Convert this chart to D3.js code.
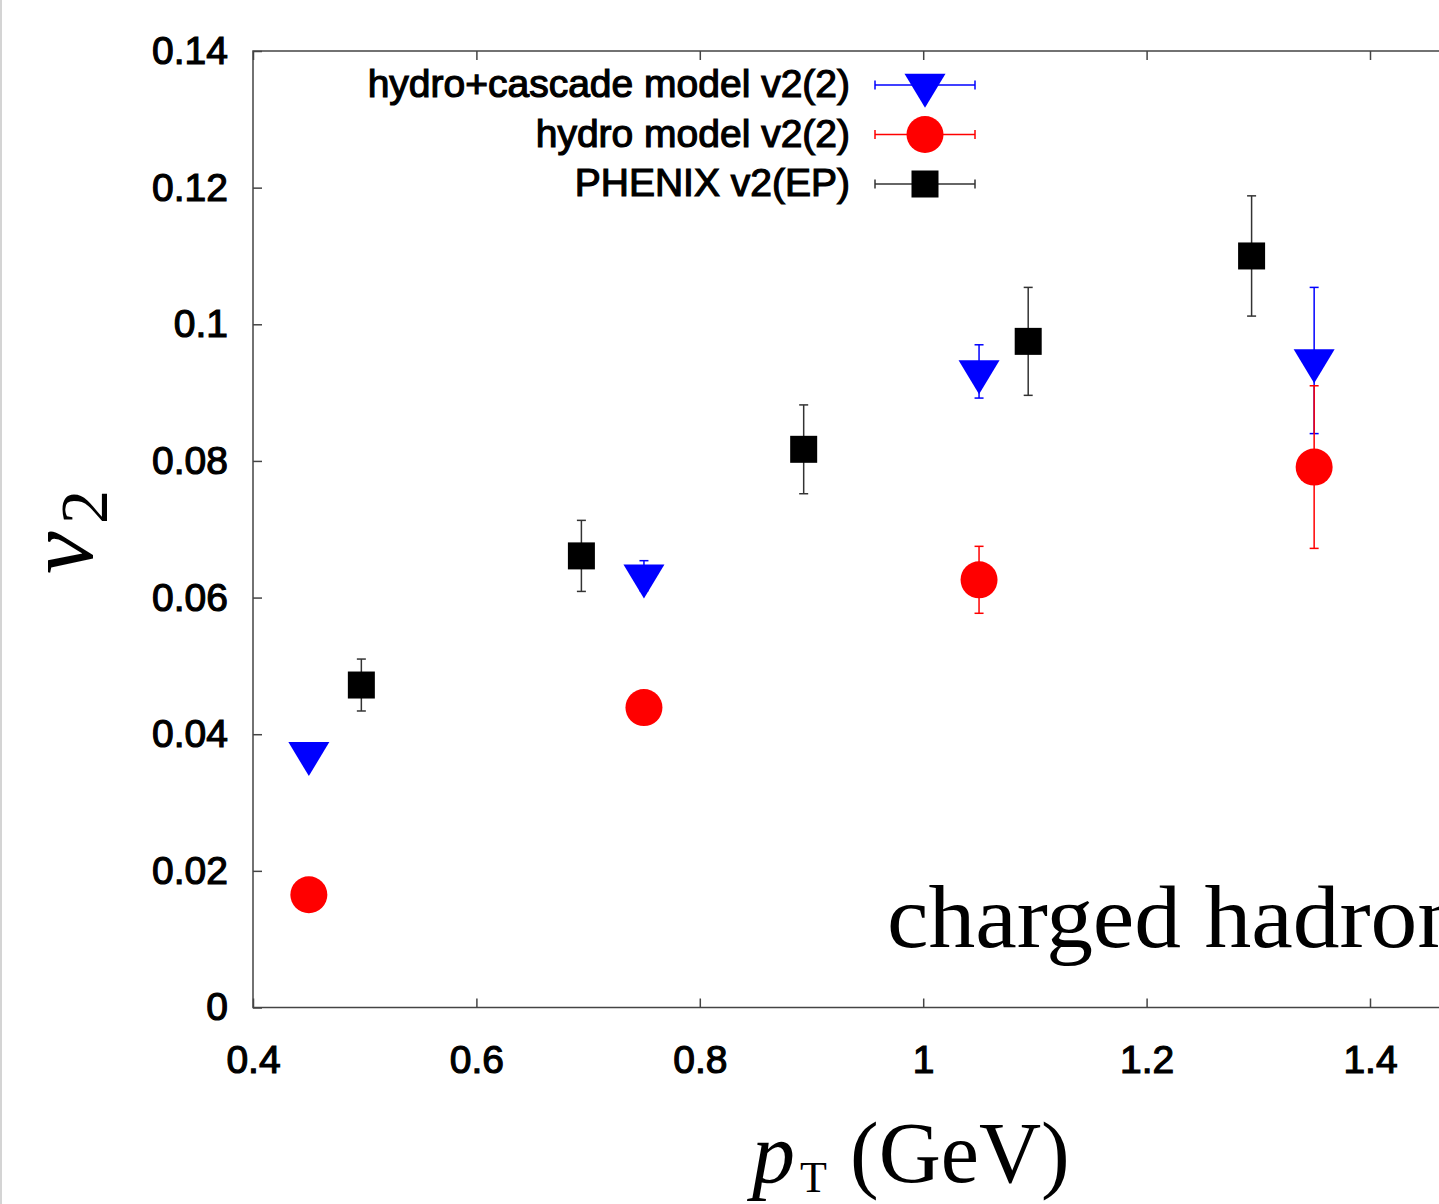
<!DOCTYPE html>
<html>
<head>
<meta charset="utf-8">
<script src="https://cdn.jsdelivr.net/npm/d3@7"></script>
<style>
    body { margin: 0; background: #fff; }
    .tick text { font-family: "Liberation Sans", Arial, sans-serif; font-size: 39px; fill: #000; stroke: #000; stroke-width: 1.2px; }
    .tick line { stroke: #444; stroke-width: 1.5px; }
</style>
</head>
<body>
<svg id="chart" width="1439" height="1204"></svg>
<script>
// hydro+cascade model v2(2)
var cascadePt = [0.45, 0.75, 1.05, 1.35];
var cascadeV2 = [0.0372, 0.0632, 0.0931, 0.0947];
var cascadeErr = [0.0004, 0.0022, 0.0039, 0.0107];

// hydro model v2(2)
var hydroPt = [0.45, 0.75, 1.05, 1.35];
var hydroV2 = [0.0165, 0.0439, 0.0626, 0.0791];
var hydroErr = [0.0003, 0.0005, 0.0049, 0.0119];

// PHENIX v2(EP)
var phenixPt = [0.497, 0.694, 0.893, 1.094, 1.294];
var phenixV2 = [0.0472, 0.0661, 0.0817, 0.0975, 0.1100];
var phenixErr = [0.0038, 0.0052, 0.0065, 0.0079, 0.0088];

var seriesNames = ["hydro+cascade model v2(2)", "hydro model v2(2)", "PHENIX v2(EP)"];
var xTicks = [0.4, 0.6, 0.8, 1.0, 1.2, 1.4];
var xTickLabels = ["0.4", "0.6", "0.8", "1", "1.2", "1.4"];
var yTicks = [0, 0.02, 0.04, 0.06, 0.08, 0.1, 0.12, 0.14];
var yTickLabels = ["0", "0.02", "0.04", "0.06", "0.08", "0.1", "0.12", "0.14"];

var svg = d3.select("#chart");

// thin grey edge on the left of the picture
svg.append("line")
    .attr("x1", 1).attr("x2", 1)
    .attr("y1", 0).attr("y2", 1204)
    .attr("stroke", "#d4d4d4")
    .attr("stroke-width", 2);

var x = d3.scaleLinear().domain([0.4, 1.5]).range([253, 1481.7]);
var y = d3.scaleLinear().domain([0, 0.14]).range([1007.5, 51]);

// axes, ticks pointing inwards
svg.append("g")
    .attr("class", "axis axis--x")
    .attr("transform", "translate(0," + y(0) + ")")
    .call(d3.axisBottom(x).tickValues(xTicks).tickSizeInner(-9).tickSizeOuter(0).tickPadding(37.5)
        .tickFormat(function(d, i) { return xTickLabels[i]; }))
    .call(function(g) { g.select(".domain").remove(); });

svg.append("g")
    .attr("transform", "translate(0," + y(0.14) + ")")
    .call(d3.axisTop(x).tickValues(xTicks).tickSizeInner(-9).tickSizeOuter(0).tickFormat(""))
    .call(function(g) { g.select(".domain").remove(); });

svg.append("g")
    .attr("class", "axis axis--y")
    .attr("transform", "translate(" + x(0.4) + ",0)")
    .call(d3.axisLeft(y).tickValues(yTicks).tickSizeInner(-9).tickSizeOuter(0).tickPadding(25)
        .tickFormat(function(d, i) { return yTickLabels[i]; }))
    .call(function(g) { g.select(".domain").remove(); });

// plot frame
svg.append("rect")
    .attr("x", x(0.4))
    .attr("y", y(0.14))
    .attr("width", x(1.5) - x(0.4))
    .attr("height", y(0) - y(0.14))
    .attr("fill", "none")
    .attr("stroke", "#444")
    .attr("stroke-width", 1.5);

var triPath = "M-20.5,-11.3L20.5,-11.3L0,22.7Z";

function drawMarker(g, shape, color) {
    if (shape === "tri") {
        g.append("path").attr("d", triPath).attr("fill", color);
    } else if (shape === "circle") {
        g.append("circle").attr("r", 18.5).attr("fill", color);
    } else {
        g.append("rect").attr("x", -13.5).attr("y", -13.5)
            .attr("width", 27).attr("height", 27).attr("fill", color);
    }
}

var series = [
    {name: seriesNames[0], pt: cascadePt, v2: cascadeV2, err: cascadeErr, color: "#0000ff", bar: "#0000ff", shape: "tri"},
    {name: seriesNames[1], pt: hydroPt, v2: hydroV2, err: hydroErr, color: "#ff0000", bar: "#ff0000", shape: "circle"},
    {name: seriesNames[2], pt: phenixPt, v2: phenixV2, err: phenixErr, color: "#000000", bar: "#333333", shape: "square"}
];

var cap = 4.5;

series.forEach(function(s) {
    var pts = s.pt.map(function(p, i) { return {pt: p, v: s.v2[i], e: s.err[i]}; });
    var grp = svg.append("g").attr("class", "serie");

    var bars = grp.selectAll(".err")
        .data(pts)
        .enter().append("g")
        .attr("class", "err")
        .attr("stroke", s.bar)
        .attr("stroke-width", 1.5);
    bars.append("line")
        .attr("x1", function(d) { return x(d.pt); })
        .attr("x2", function(d) { return x(d.pt); })
        .attr("y1", function(d) { return y(d.v + d.e); })
        .attr("y2", function(d) { return y(d.v - d.e); });
    bars.append("line")
        .attr("x1", function(d) { return x(d.pt) - cap; })
        .attr("x2", function(d) { return x(d.pt) + cap; })
        .attr("y1", function(d) { return y(d.v + d.e); })
        .attr("y2", function(d) { return y(d.v + d.e); });
    bars.append("line")
        .attr("x1", function(d) { return x(d.pt) - cap; })
        .attr("x2", function(d) { return x(d.pt) + cap; })
        .attr("y1", function(d) { return y(d.v - d.e); })
        .attr("y2", function(d) { return y(d.v - d.e); });

    grp.selectAll(".pt")
        .data(pts)
        .enter().append("g")
        .attr("class", "pt")
        .attr("transform", function(d) { return "translate(" + x(d.pt) + "," + y(d.v) + ")"; })
        .each(function() { drawMarker(d3.select(this), s.shape, s.color); });
});

// legend
var legend = svg.selectAll(".legend")
    .data(series)
    .enter().append("g")
    .attr("class", "legend")
    .attr("transform", function(d, i) { return "translate(0," + (85 + i * 49.5) + ")"; });

legend.append("text")
    .attr("x", 850)
    .attr("y", 12)
    .attr("text-anchor", "end")
    .style("font-family", "'Liberation Sans', Arial, sans-serif")
    .style("font-size", "39px")
    .attr("fill", "#000")
    .attr("stroke", "#000")
    .attr("stroke-width", 1.2)
    .text(function(d) { return d.name; });

legend.each(function(d) {
    var g = d3.select(this);
    var lg = g.append("g").attr("stroke", d.bar).attr("stroke-width", 1.5);
    lg.append("line").attr("x1", 875).attr("x2", 975).attr("y1", 0).attr("y2", 0);
    lg.append("line").attr("x1", 875).attr("x2", 875).attr("y1", -cap).attr("y2", cap);
    lg.append("line").attr("x1", 975).attr("x2", 975).attr("y1", -cap).attr("y2", cap);
    var m = g.append("g").attr("transform", "translate(925,0)");
    drawMarker(m, d.shape, d.color);
});

// axis titles
var serif = "'Liberation Serif', 'Times New Roman', serif";

svg.append("text")
    .attr("transform", "translate(92,574) rotate(-90)")
    .style("font-family", serif)
    .style("font-style", "italic")
    .style("font-size", "96px")
    .text("v");
svg.append("text")
    .attr("transform", "translate(107,524) rotate(-90)")
    .style("font-family", serif)
    .style("font-size", "68px")
    .text("2");

svg.append("text")
    .attr("x", 752).attr("y", 1182)
    .style("font-family", serif)
    .style("font-style", "italic")
    .style("font-size", "86px")
    .text("p");
svg.append("text")
    .attr("x", 800).attr("y", 1192)
    .style("font-family", serif)
    .style("font-size", "44px")
    .text("T");
svg.append("text")
    .attr("x", 850).attr("y", 1182)
    .style("font-family", serif)
    .style("font-size", "86px")
    .text("(GeV)");

svg.append("text")
    .attr("x", 887).attr("y", 947)
    .attr("textLength", 577)
    .attr("lengthAdjust", "spacingAndGlyphs")
    .style("font-family", serif)
    .style("font-size", "88px")
    .text("charged hadron");
</script>
</body>
</html>
